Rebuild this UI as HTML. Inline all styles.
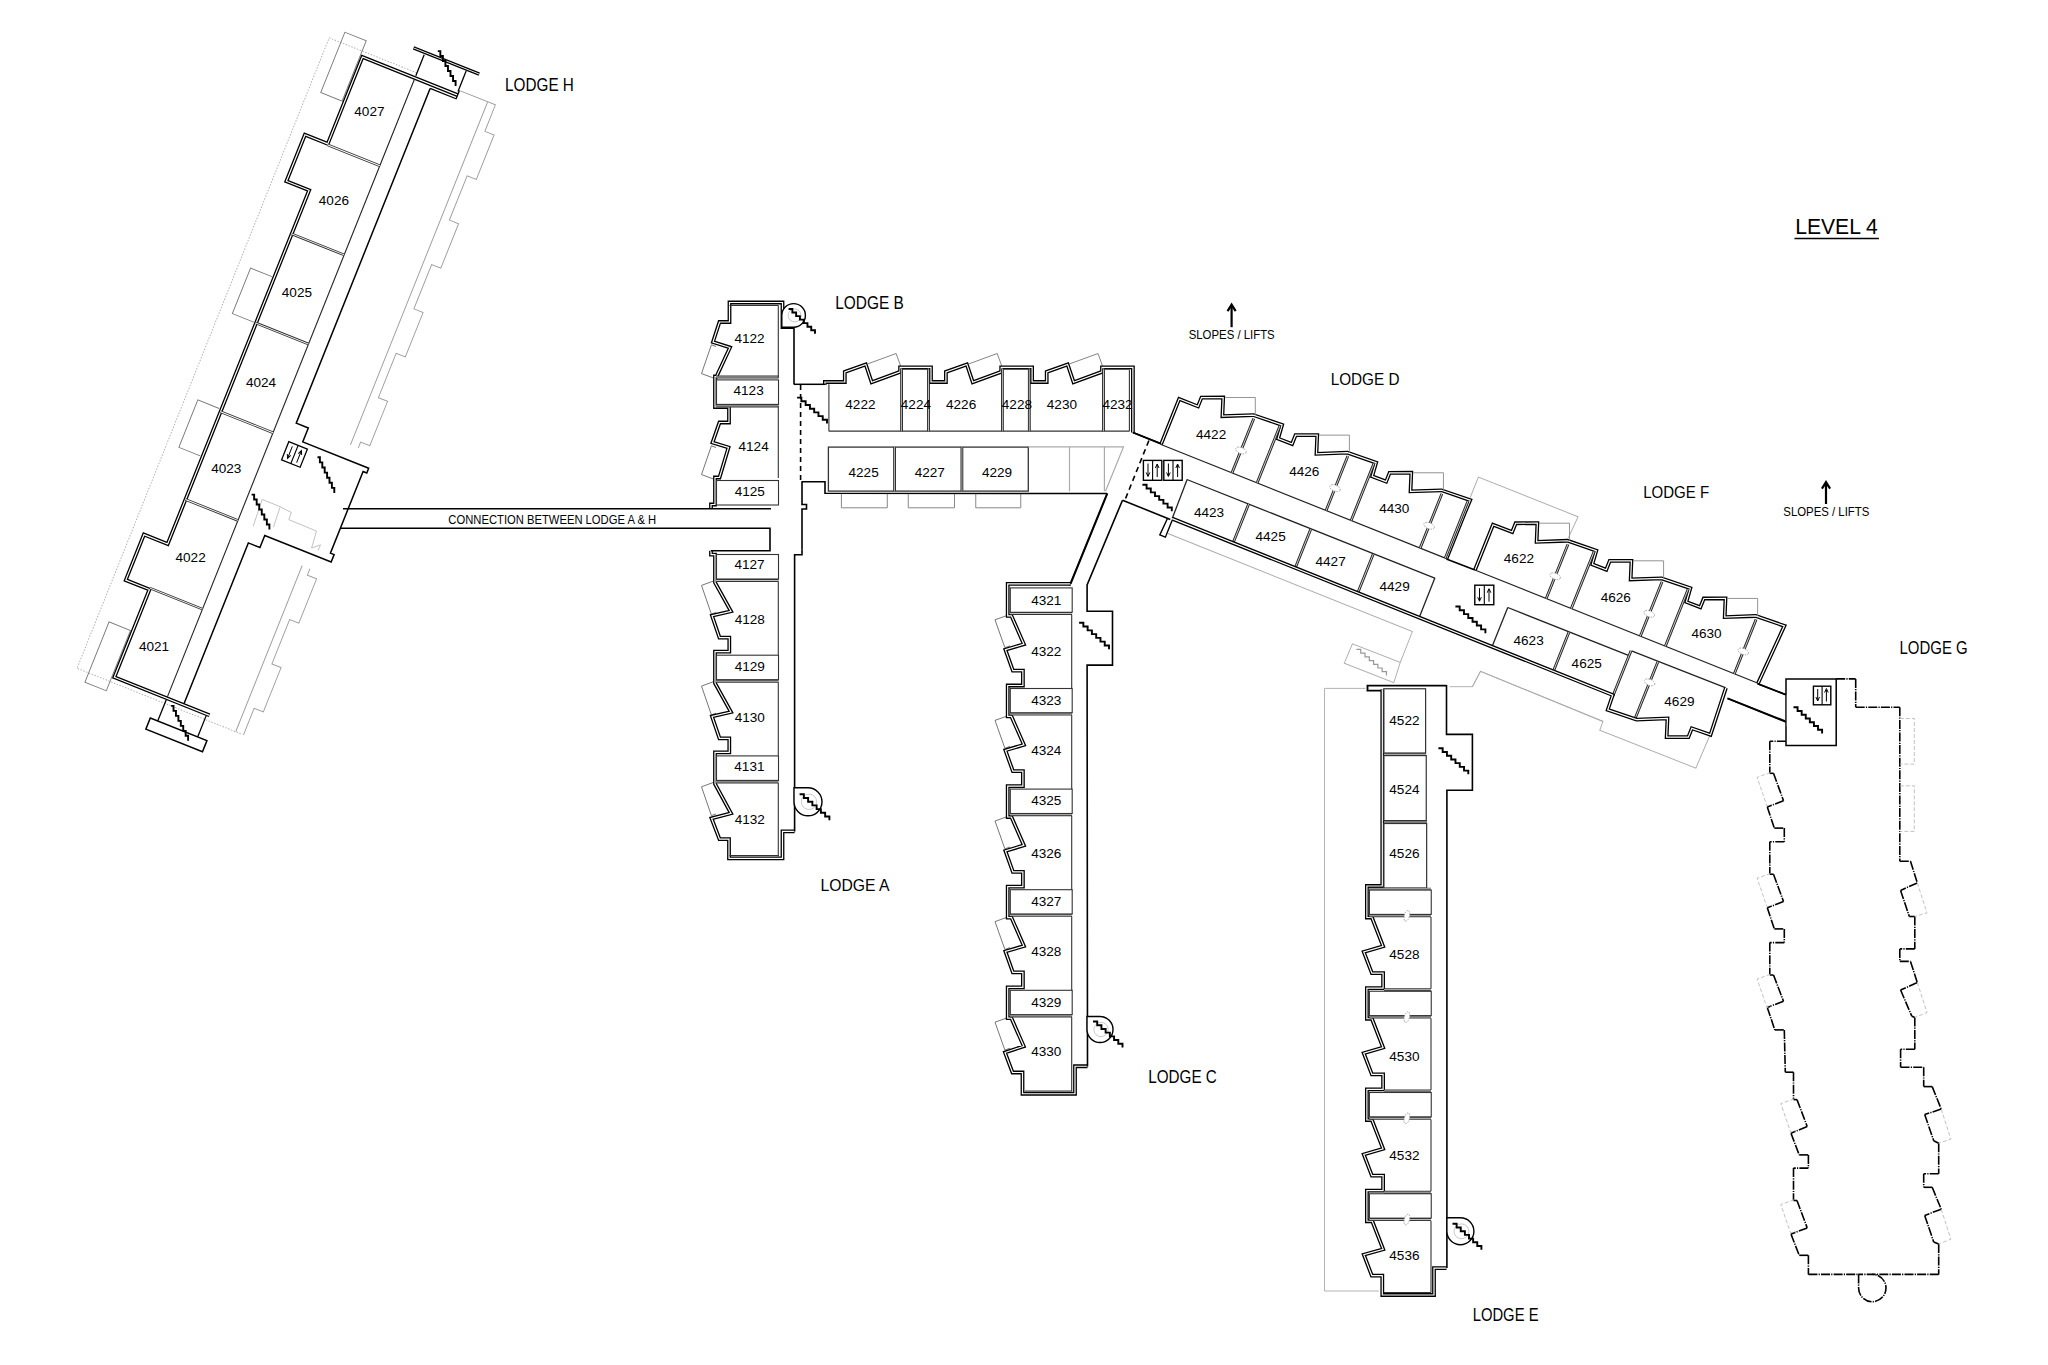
<!DOCTYPE html><html><head><meta charset="utf-8"><style>html,body{margin:0;padding:0;background:#fff;width:2048px;height:1365px;overflow:hidden}svg{display:block;font-family:"Liberation Sans",sans-serif}</style></head><body>
<svg width="2048" height="1365" viewBox="0 0 2048 1365">
<rect width="2048" height="1365" fill="#fff"/>
<g transform="translate(361.6,55.1) rotate(21.8)">
<polyline points="57.8,-4 -36.5,-4 -36.5,675 141.5,675" fill="none" stroke="#aaa" stroke-width="0.9" stroke-dasharray="1.5,1.5"/>
<polyline points="104.9,-3.5 142.7,-3.5 142.8,25 152.7,25 152.7,72.8 142.8,72.8 142.8,120.6 152.7,120.6 152.7,168.4 142.8,168.4 142.8,216.2 152.7,216.2 152.7,264 142.8,264 142.8,311.8 152.7,311.8 152.7,359.6 142.8,359.6 142.8,407.4 152.7,407.4 152.7,455.2 142.8,455.2 142.8,503 152.7,503 152.7,550.8 142.8,550.8 142.8,598.6 152.7,598.6 152.7,646.4 142.8,646.4 142.8,675" fill="none" stroke="#9a9a9a" stroke-width="0.9" />
<polyline points="134.4,-3 134.4,675" fill="none" stroke="#9a9a9a" stroke-width="0.9" />
<polygon points="-1,-15 -24,-15 -24,50 -1,50" fill="none" stroke="#777" stroke-width="0.9" />
<polyline points="-1,239 -24,239 -24,288 -1,288" fill="none" stroke="#777" stroke-width="0.9" />
<polyline points="-1,381 -24,381 -24,432 -1,432" fill="none" stroke="#777" stroke-width="0.9" />
<polygon points="-1,620 -24,620 -24,685 -1,685" fill="none" stroke="#777" stroke-width="0.9" />
<polygon points="89,366 160,381 160,482 88.5,482" fill="#fff"/>
<rect x="76" y="366" width="86" height="130" fill="#fff"/>
<polyline points="104,1.5 1.5,1.5 1.5,95 -23,95 -23,145 1.5,145 1.5,526 -24,526 -24,575 1.5,575 1.5,669.5 104,669.5" fill="none" stroke="#000" stroke-width="3.8" stroke-linejoin="miter"/>
<polyline points="104,1.5 1.5,1.5 1.5,95 -23,95 -23,145 1.5,145 1.5,526 -24,526 -24,575 1.5,575 1.5,669.5 104,669.5" fill="none" stroke="#fff" stroke-width="1.2" stroke-linejoin="miter"/>
<line x1="58" y1="3" x2="58" y2="668" stroke="#222" stroke-width="1.1" />
<polyline points="1.5,96 58,96" fill="none" stroke="#333" stroke-width="2.6" stroke-linejoin="miter"/>
<polyline points="1.5,96 58,96" fill="none" stroke="#fff" stroke-width="0.9" stroke-linejoin="miter"/>
<polyline points="1.5,192 58,192" fill="none" stroke="#333" stroke-width="2.6" stroke-linejoin="miter"/>
<polyline points="1.5,192 58,192" fill="none" stroke="#fff" stroke-width="0.9" stroke-linejoin="miter"/>
<polyline points="1.5,288 58,288" fill="none" stroke="#333" stroke-width="2.6" stroke-linejoin="miter"/>
<polyline points="1.5,288 58,288" fill="none" stroke="#fff" stroke-width="0.9" stroke-linejoin="miter"/>
<polyline points="1.5,383.5 58,383.5" fill="none" stroke="#333" stroke-width="2.6" stroke-linejoin="miter"/>
<polyline points="1.5,383.5 58,383.5" fill="none" stroke="#fff" stroke-width="0.9" stroke-linejoin="miter"/>
<polyline points="1.5,478 58,478" fill="none" stroke="#333" stroke-width="2.6" stroke-linejoin="miter"/>
<polyline points="1.5,478 58,478" fill="none" stroke="#fff" stroke-width="0.9" stroke-linejoin="miter"/>
<polyline points="1.5,573.5 58,573.5" fill="none" stroke="#333" stroke-width="2.6" stroke-linejoin="miter"/>
<polyline points="1.5,573.5 58,573.5" fill="none" stroke="#fff" stroke-width="0.9" stroke-linejoin="miter"/>
<polyline points="76,5.5 76,366 89,366 89,381 160,381 160,386 156,386 156,474 160,474 160,482 88.5,482 88.5,495 76,495 76,668" fill="none" stroke="#000" stroke-width="1.5" />
<line x1="76" y1="5.5" x2="104.5" y2="5.5" stroke="#000" stroke-width="1.3" />
<line x1="104" y1="-3.5" x2="104" y2="5.5" stroke="#000" stroke-width="1.3" />
<polyline points="45.5,-26 116.3,-26" fill="none" stroke="#000" stroke-width="3.4" stroke-linejoin="miter"/>
<polyline points="45.5,-26 116.3,-26" fill="none" stroke="#fff" stroke-width="1" stroke-linejoin="miter"/>
<line x1="58" y1="-23.5" x2="58" y2="-1" stroke="#000" stroke-width="1.3" />
<line x1="103" y1="-24" x2="103" y2="-2" stroke="#000" stroke-width="1.3" />
<line x1="58" y1="671" x2="58" y2="694" stroke="#000" stroke-width="1.3" />
<line x1="101" y1="671" x2="101" y2="694" stroke="#000" stroke-width="1.3" />
<polygon points="50,694 111,694 111,706 50,706" fill="none" stroke="#000" stroke-width="1.5" />
<g>
<rect x="76" y="386" width="20" height="19.5" fill="none" stroke="#000" stroke-width="1.3" />
<line x1="86" y1="386" x2="86" y2="405.5" stroke="#000" stroke-width="1.1" />
<line x1="81" y1="389" x2="81" y2="401.5" stroke="#000" stroke-width="1" />
<polyline points="79.2,398 81,402 82.8,398" fill="none" stroke="#000" stroke-width="1" />
<line x1="91" y1="390" x2="91" y2="402.5" stroke="#000" stroke-width="1" />
<polyline points="89.2,393.5 91,389.5 92.8,393.5" fill="none" stroke="#000" stroke-width="1" />
</g>
</g>
<polyline points="253.21,526.19 262.13,499.44 278.34,505.93 291.31,512.41 288.88,519.71 316.44,531.06 311.58,548.08 320.49,544.84 318.06,550.51" fill="none" stroke="#bbb" stroke-width="0.9" />
<line x1="279.96" y1="507.55" x2="273.48" y2="527" stroke="#bbb" stroke-width="0.9" />
<polyline points="437.8,51.1 440.34,51.1 440.34,56.07 442.89,56.07 442.89,61.04 445.43,61.04 445.43,66.01 447.97,66.01 447.97,70.99 450.51,70.99 450.51,75.96 453.06,75.96 453.06,80.93 455.6,80.93 455.6,85.9" fill="none" stroke="#000" stroke-width="1.9" />
<polyline points="317.5,457.3 319.9,457.3 319.9,462.4 322.3,462.4 322.3,467.5 324.7,467.5 324.7,472.6 327.1,472.6 327.1,477.7 329.5,477.7 329.5,482.8 331.9,482.8 331.9,487.9 334.3,487.9 334.3,493" fill="none" stroke="#000" stroke-width="1.9" />
<polyline points="251.6,494.6 254.14,494.6 254.14,499.57 256.69,499.57 256.69,504.54 259.23,504.54 259.23,509.51 261.77,509.51 261.77,514.49 264.31,514.49 264.31,519.46 266.86,519.46 266.86,524.43 269.4,524.43 269.4,529.4" fill="none" stroke="#000" stroke-width="1.9" />
<polyline points="171.1,705.9 173.53,705.9 173.53,710.89 175.96,710.89 175.96,715.87 178.39,715.87 178.39,720.86 180.81,720.86 180.81,725.84 183.24,725.84 183.24,730.83 185.67,730.83 185.67,735.81 188.1,735.81 188.1,740.8" fill="none" stroke="#000" stroke-width="1.9" />
<text x="369.4" y="115.75" font-size="13.57" text-anchor="middle" textLength="30.21" lengthAdjust="spacingAndGlyphs" fill="#000">4027</text>
<text x="333.9" y="204.75" font-size="13.57" text-anchor="middle" textLength="30.21" lengthAdjust="spacingAndGlyphs" fill="#000">4026</text>
<text x="296.9" y="296.95" font-size="13.57" text-anchor="middle" textLength="30.21" lengthAdjust="spacingAndGlyphs" fill="#000">4025</text>
<text x="261" y="386.5" font-size="13.57" text-anchor="middle" textLength="30.21" lengthAdjust="spacingAndGlyphs" fill="#000">4024</text>
<text x="226.25" y="473.25" font-size="13.57" text-anchor="middle" textLength="30.21" lengthAdjust="spacingAndGlyphs" fill="#000">4023</text>
<text x="190.6" y="562" font-size="13.57" text-anchor="middle" textLength="30.21" lengthAdjust="spacingAndGlyphs" fill="#000">4022</text>
<text x="154" y="651" font-size="13.57" text-anchor="middle" textLength="30.21" lengthAdjust="spacingAndGlyphs" fill="#000">4021</text>
<text x="539.5" y="90.8" font-size="18.14" text-anchor="middle" textLength="68.79" lengthAdjust="spacingAndGlyphs" fill="#000">LODGE H</text>
<polyline points="713.5,378 701.5,373.6 711.4,344.8 716,346.5" fill="none" stroke="#666" stroke-width="0.9" />
<polyline points="713.5,479 701.5,474.6 711.4,445.8 716,447.5" fill="none" stroke="#666" stroke-width="0.9" />
<polyline points="713.5,581 701.5,585.4 711.4,614.2 716,612.5" fill="none" stroke="#666" stroke-width="0.9" />
<polyline points="713.5,681.7 701.5,686.1 711.4,714.9 716,713.2" fill="none" stroke="#666" stroke-width="0.9" />
<polyline points="713.5,782.4 701.5,786.8 711.4,815.6 716,813.9" fill="none" stroke="#666" stroke-width="0.9" />
<polyline points="794,327 782.5,327 782.5,302.5 729.5,302.5 729.5,322 719.5,322 713,342 730,347.5 716.5,376.5 715,376.5 715,407 729,407 729,422.5 719.5,422.5 712.5,442.5 728.5,447.5 719.5,477.5 715,477.5 715,504.5 711,504.5 711,508.8" fill="none" stroke="#000" stroke-width="3.8" stroke-linejoin="miter"/>
<polyline points="794,327 782.5,327 782.5,302.5 729.5,302.5 729.5,322 719.5,322 713,342 730,347.5 716.5,376.5 715,376.5 715,407 729,407 729,422.5 719.5,422.5 712.5,442.5 728.5,447.5 719.5,477.5 715,477.5 715,504.5 711,504.5 711,508.8" fill="none" stroke="#fff" stroke-width="1.2" stroke-linejoin="miter"/>
<polyline points="711,550.7 711,554.7 715,554.7 715,582.5 731,611.3 712,615.7 719.5,637.6 729.3,637.6 729.3,651.6 715,651.6 715,683.2 731,712 712,716.4 719.5,738.3 729.3,738.3 729.3,752.3 715,752.3 715,783.9 731,813.3 711.5,818.3 719.5,839.2 729,839.2 729,858.3 782.5,858.3 782.5,831.4 794.6,831.4" fill="none" stroke="#000" stroke-width="3.8" stroke-linejoin="miter"/>
<polyline points="711,550.7 711,554.7 715,554.7 715,582.5 731,611.3 712,615.7 719.5,637.6 729.3,637.6 729.3,651.6 715,651.6 715,683.2 731,712 712,716.4 719.5,738.3 729.3,738.3 729.3,752.3 715,752.3 715,783.9 731,813.3 711.5,818.3 719.5,839.2 729,839.2 729,858.3 782.5,858.3 782.5,831.4 794.6,831.4" fill="none" stroke="#fff" stroke-width="1.2" stroke-linejoin="miter"/>
<line x1="343" y1="508.8" x2="771" y2="508.8" stroke="#000" stroke-width="1.6" />
<polyline points="340,528.3 770,528.3 770,550.7 711,550.7" fill="none" stroke="#000" stroke-width="1.6" />
<polyline points="794.6,831.4 794.6,554.7 802,554.7 802,549.7" fill="none" stroke="#000" stroke-width="1.6" />
<polyline points="802,549.7 802,509 806.5,509 806.5,504.5 802,504.5 802,481.5" fill="none" stroke="#000" stroke-width="1.6" />
<line x1="794" y1="327" x2="794" y2="384.5" stroke="#000" stroke-width="1.6" />
<line x1="800.6" y1="385" x2="800.6" y2="481" stroke="#000" stroke-width="1.6" stroke-dasharray="5,4"/>
<rect x="716.5" y="379.9" width="62" height="24.5" fill="none" stroke="#333" stroke-width="1.1" />
<polyline points="716,405.9 778.5,405.9" fill="none" stroke="#333" stroke-width="3" stroke-linejoin="miter"/>
<polyline points="716,405.9 778.5,405.9" fill="none" stroke="#fff" stroke-width="0.7" stroke-linejoin="miter"/>
<rect x="716.5" y="480.5" width="62" height="24.5" fill="none" stroke="#333" stroke-width="1.1" />
<rect x="716.5" y="554.5" width="62" height="24.5" fill="none" stroke="#333" stroke-width="1.1" />
<polyline points="716,580.5 778.5,580.5" fill="none" stroke="#333" stroke-width="3" stroke-linejoin="miter"/>
<polyline points="716,580.5 778.5,580.5" fill="none" stroke="#fff" stroke-width="0.7" stroke-linejoin="miter"/>
<rect x="716.5" y="655.2" width="62" height="24.5" fill="none" stroke="#333" stroke-width="1.1" />
<polyline points="716,681.2 778.5,681.2" fill="none" stroke="#333" stroke-width="3" stroke-linejoin="miter"/>
<polyline points="716,681.2 778.5,681.2" fill="none" stroke="#fff" stroke-width="0.7" stroke-linejoin="miter"/>
<rect x="716.5" y="755.9" width="62" height="24.5" fill="none" stroke="#333" stroke-width="1.1" />
<polyline points="716,781.9 778.5,781.9" fill="none" stroke="#333" stroke-width="3" stroke-linejoin="miter"/>
<polyline points="716,781.9 778.5,781.9" fill="none" stroke="#fff" stroke-width="0.7" stroke-linejoin="miter"/>
<polyline points="716,377 778.5,377" fill="none" stroke="#333" stroke-width="3" stroke-linejoin="miter"/>
<polyline points="716,377 778.5,377" fill="none" stroke="#fff" stroke-width="0.7" stroke-linejoin="miter"/>
<line x1="778.3" y1="305.5" x2="778.3" y2="378" stroke="#333" stroke-width="1.1" />
<line x1="778.3" y1="406" x2="778.3" y2="478" stroke="#333" stroke-width="1.1" />
<line x1="778.3" y1="581.5" x2="778.3" y2="655" stroke="#333" stroke-width="1.1" />
<line x1="778.3" y1="682.2" x2="778.3" y2="755.7" stroke="#333" stroke-width="1.1" />
<line x1="778.3" y1="782.9" x2="778.3" y2="856.5" stroke="#333" stroke-width="1.1" />
<line x1="729.5" y1="305.5" x2="778.5" y2="305.5" stroke="#333" stroke-width="1.1" />
<line x1="729.5" y1="855.5" x2="778.5" y2="855.5" stroke="#333" stroke-width="1.1" />
<path d="M793.6,327.2 L781.8,327.2 L781.8,315.4 A11.8,11.8 0 1 1 793.6,327.2 Z" fill="#fff" stroke="#000" stroke-width="1.4"/>
<circle cx="794.6" cy="315.4" r="6.49" fill="none" stroke="#bbb" stroke-width="0.8"/>
<polyline points="788.6,309 792.37,309 792.37,312.54 796.14,312.54 796.14,316.09 799.91,316.09 799.91,319.63 803.69,319.63 803.69,323.17 807.46,323.17 807.46,326.71 811.23,326.71 811.23,330.26 815,330.26 815,333.8" fill="none" stroke="#000" stroke-width="1.9" />
<path d="M794,801.8 L794,787.8 L808,787.8 A14,14 0 1 1 794,801.8 Z" fill="#fff" stroke="#000" stroke-width="1.4"/>
<circle cx="809" cy="801.8" r="7.7" fill="none" stroke="#bbb" stroke-width="0.8"/>
<polyline points="799.6,794.3 803.86,794.3 803.86,798 808.11,798 808.11,801.7 812.37,801.7 812.37,805.4 816.63,805.4 816.63,809.1 820.89,809.1 820.89,812.8 825.14,812.8 825.14,816.5 829.4,816.5 829.4,820.2" fill="none" stroke="#000" stroke-width="1.9" />
<polyline points="797.1,397.6 801.37,397.6 801.37,401.3 805.64,401.3 805.64,405 809.91,405 809.91,408.7 814.19,408.7 814.19,412.4 818.46,412.4 818.46,416.1 822.73,416.1 822.73,419.8 827,419.8 827,423.5" fill="none" stroke="#000" stroke-width="1.9" />
<text x="749.5" y="343.15" font-size="13.57" text-anchor="middle" textLength="30.21" lengthAdjust="spacingAndGlyphs" fill="#000">4122</text>
<text x="748.6" y="394.75" font-size="13.57" text-anchor="middle" textLength="30.21" lengthAdjust="spacingAndGlyphs" fill="#000">4123</text>
<text x="753.6" y="451" font-size="13.57" text-anchor="middle" textLength="30.21" lengthAdjust="spacingAndGlyphs" fill="#000">4124</text>
<text x="749.75" y="496" font-size="13.57" text-anchor="middle" textLength="30.21" lengthAdjust="spacingAndGlyphs" fill="#000">4125</text>
<text x="749.5" y="569.45" font-size="13.57" text-anchor="middle" textLength="30.21" lengthAdjust="spacingAndGlyphs" fill="#000">4127</text>
<text x="749.75" y="624.25" font-size="13.57" text-anchor="middle" textLength="30.21" lengthAdjust="spacingAndGlyphs" fill="#000">4128</text>
<text x="749.75" y="670.65" font-size="13.57" text-anchor="middle" textLength="30.21" lengthAdjust="spacingAndGlyphs" fill="#000">4129</text>
<text x="749.75" y="722.25" font-size="13.57" text-anchor="middle" textLength="30.21" lengthAdjust="spacingAndGlyphs" fill="#000">4130</text>
<text x="749.4" y="771.35" font-size="13.57" text-anchor="middle" textLength="30.21" lengthAdjust="spacingAndGlyphs" fill="#000">4131</text>
<text x="749.75" y="823.5" font-size="13.57" text-anchor="middle" textLength="30.21" lengthAdjust="spacingAndGlyphs" fill="#000">4132</text>
<text x="552.25" y="523.6" font-size="12.86" text-anchor="middle" textLength="207.77" lengthAdjust="spacingAndGlyphs" fill="#000">CONNECTION BETWEEN LODGE A &amp; H</text>
<polyline points="867.7,363.9 896.1,353.5 900.6,365.9" fill="none" stroke="#777" stroke-width="0.9" />
<polyline points="968.8,363.9 997.2,353.5 1001.7,365.9" fill="none" stroke="#777" stroke-width="0.9" />
<polyline points="1069.6,363.9 1098,353.5 1102.5,365.9" fill="none" stroke="#777" stroke-width="0.9" />
<polyline points="841.4,493.5 841.4,507.8 887.3,507.8 887.3,493.5" fill="none" stroke="#888" stroke-width="1" />
<polyline points="908.25,493.5 908.25,507.8 954.5,507.8 954.5,493.5" fill="none" stroke="#888" stroke-width="1" />
<polyline points="975.75,493.5 975.75,507.8 1020.75,507.8 1020.75,493.5" fill="none" stroke="#888" stroke-width="1" />
<polyline points="824.9,384.8 824.9,382 844.8,382 844.8,371.9 865.7,364.4 871.7,382.2 900.1,371.9 900.1,367.4 931,367.4 931,382 945.9,382 945.9,371.9 966.8,364.4 972.8,382.2 1001.2,371.9 1001.2,367.4 1032.1,367.4 1032.1,382 1046.7,382 1046.7,371.9 1067.6,364.4 1073.6,382.2 1102,371.9 1102,367.4 1132.9,367.4 1132.9,367.4 1132.9,432.6" fill="none" stroke="#000" stroke-width="3.8" stroke-linejoin="miter"/>
<polyline points="824.9,384.8 824.9,382 844.8,382 844.8,371.9 865.7,364.4 871.7,382.2 900.1,371.9 900.1,367.4 931,367.4 931,382 945.9,382 945.9,371.9 966.8,364.4 972.8,382.2 1001.2,371.9 1001.2,367.4 1032.1,367.4 1032.1,382 1046.7,382 1046.7,371.9 1067.6,364.4 1073.6,382.2 1102,371.9 1102,367.4 1132.9,367.4 1132.9,367.4 1132.9,432.6" fill="none" stroke="#fff" stroke-width="1.2" stroke-linejoin="miter"/>
<line x1="794" y1="384.3" x2="825.5" y2="384.3" stroke="#000" stroke-width="1.5" />
<line x1="828.9" y1="384.3" x2="828.9" y2="431.2" stroke="#333" stroke-width="1.1" />
<line x1="828.9" y1="431.2" x2="1129.4" y2="431.2" stroke="#333" stroke-width="1.2" />
<line x1="1129.4" y1="369.5" x2="1129.4" y2="431.2" stroke="#333" stroke-width="1.1" />
<polyline points="901.6,368.5 901.6,431.2" fill="none" stroke="#222" stroke-width="2.8" stroke-linejoin="miter"/>
<polyline points="901.6,368.5 901.6,431.2" fill="none" stroke="#fff" stroke-width="0.7" stroke-linejoin="miter"/>
<polyline points="928.5,368.5 928.5,431.2" fill="none" stroke="#222" stroke-width="2.8" stroke-linejoin="miter"/>
<polyline points="928.5,368.5 928.5,431.2" fill="none" stroke="#fff" stroke-width="0.7" stroke-linejoin="miter"/>
<polyline points="1002.4,368.5 1002.4,431.2" fill="none" stroke="#222" stroke-width="2.8" stroke-linejoin="miter"/>
<polyline points="1002.4,368.5 1002.4,431.2" fill="none" stroke="#fff" stroke-width="0.7" stroke-linejoin="miter"/>
<polyline points="1029.3,368.5 1029.3,431.2" fill="none" stroke="#222" stroke-width="2.8" stroke-linejoin="miter"/>
<polyline points="1029.3,368.5 1029.3,431.2" fill="none" stroke="#fff" stroke-width="0.7" stroke-linejoin="miter"/>
<polyline points="1103.5,368.5 1103.5,431.2" fill="none" stroke="#222" stroke-width="2.8" stroke-linejoin="miter"/>
<polyline points="1103.5,368.5 1103.5,431.2" fill="none" stroke="#fff" stroke-width="0.7" stroke-linejoin="miter"/>
<line x1="902.6" y1="369.3" x2="928.6" y2="369.3" stroke="#444" stroke-width="1" />
<line x1="1003.7" y1="369.3" x2="1029.7" y2="369.3" stroke="#444" stroke-width="1" />
<line x1="1103.5" y1="369.3" x2="1129.4" y2="369.3" stroke="#444" stroke-width="1" />
<rect x="828.4" y="447.1" width="199.9" height="44" fill="none" stroke="#333" stroke-width="1.3" />
<polyline points="894.6,447.1 894.6,491.1" fill="none" stroke="#222" stroke-width="2.8" stroke-linejoin="miter"/>
<polyline points="894.6,447.1 894.6,491.1" fill="none" stroke="#fff" stroke-width="0.7" stroke-linejoin="miter"/>
<polyline points="961.9,447.1 961.9,491.1" fill="none" stroke="#222" stroke-width="2.8" stroke-linejoin="miter"/>
<polyline points="961.9,447.1 961.9,491.1" fill="none" stroke="#fff" stroke-width="0.7" stroke-linejoin="miter"/>
<line x1="1069.5" y1="447" x2="1069.5" y2="491.3" stroke="#aaa" stroke-width="1.2" />
<line x1="1104.4" y1="447" x2="1104.4" y2="491.3" stroke="#aaa" stroke-width="1.2" />
<polyline points="1028.3,446.9 1123.5,446.9 1105.5,491.3" fill="none" stroke="#aaa" stroke-width="1.2" />
<polyline points="801.6,481.8 825,481.8 825,493.3 1107,493.5" fill="none" stroke="#000" stroke-width="1.6" />
<line x1="1107" y1="493.5" x2="1069.5" y2="585.5" stroke="#000" stroke-width="1.6" />
<line x1="1132.9" y1="432.6" x2="1160.8" y2="443.6" stroke="#000" stroke-width="1.6" />
<line x1="1148.9" y1="440.5" x2="1125.5" y2="498.7" stroke="#000" stroke-width="1.6" stroke-dasharray="5.5,4"/>
<rect x="1143.4" y="460.4" width="18.4" height="19.9" fill="none" stroke="#000" stroke-width="1.4" />
<line x1="1152.6" y1="460.4" x2="1152.6" y2="480.3" stroke="#000" stroke-width="1.1" />
<line x1="1148" y1="463.5" x2="1148" y2="476" stroke="#000" stroke-width="1" />
<polyline points="1146.2,472.5 1148,476.5 1149.8,472.5" fill="none" stroke="#000" stroke-width="1" />
<line x1="1157.2" y1="464.5" x2="1157.2" y2="477" stroke="#000" stroke-width="1" />
<polyline points="1155.4,468 1157.2,464 1159,468" fill="none" stroke="#000" stroke-width="1" />
<rect x="1163.8" y="460.4" width="18.4" height="19.9" fill="none" stroke="#000" stroke-width="1.4" />
<line x1="1173" y1="460.4" x2="1173" y2="480.3" stroke="#000" stroke-width="1.1" />
<line x1="1168.4" y1="463.5" x2="1168.4" y2="476" stroke="#000" stroke-width="1" />
<polyline points="1166.6,472.5 1168.4,476.5 1170.2,472.5" fill="none" stroke="#000" stroke-width="1" />
<line x1="1177.6" y1="464.5" x2="1177.6" y2="477" stroke="#000" stroke-width="1" />
<polyline points="1175.8,468 1177.6,464 1179.4,468" fill="none" stroke="#000" stroke-width="1" />
<polyline points="1142.4,484.8 1146.6,484.8 1146.6,488.57 1150.8,488.57 1150.8,492.34 1155,492.34 1155,496.11 1159.2,496.11 1159.2,499.89 1163.4,499.89 1163.4,503.66 1167.6,503.66 1167.6,507.43 1171.8,507.43 1171.8,511.2" fill="none" stroke="#000" stroke-width="1.9" />
<text x="860.4" y="409.25" font-size="13.57" text-anchor="middle" textLength="30.21" lengthAdjust="spacingAndGlyphs" fill="#000">4222</text>
<text x="915.9" y="409.25" font-size="13.57" text-anchor="middle" textLength="30.21" lengthAdjust="spacingAndGlyphs" fill="#000">4224</text>
<text x="961.1" y="409.25" font-size="13.57" text-anchor="middle" textLength="30.21" lengthAdjust="spacingAndGlyphs" fill="#000">4226</text>
<text x="1016.9" y="409.05" font-size="13.57" text-anchor="middle" textLength="30.21" lengthAdjust="spacingAndGlyphs" fill="#000">4228</text>
<text x="1061.9" y="409.05" font-size="13.57" text-anchor="middle" textLength="30.21" lengthAdjust="spacingAndGlyphs" fill="#000">4230</text>
<text x="1117.5" y="409.05" font-size="13.57" text-anchor="middle" textLength="30.21" lengthAdjust="spacingAndGlyphs" fill="#000">4232</text>
<text x="863.6" y="477.25" font-size="13.57" text-anchor="middle" textLength="30.21" lengthAdjust="spacingAndGlyphs" fill="#000">4225</text>
<text x="929.75" y="477.25" font-size="13.57" text-anchor="middle" textLength="30.21" lengthAdjust="spacingAndGlyphs" fill="#000">4227</text>
<text x="997" y="477.25" font-size="13.57" text-anchor="middle" textLength="30.21" lengthAdjust="spacingAndGlyphs" fill="#000">4229</text>
<text x="869.5" y="308.5" font-size="17.86" text-anchor="middle" textLength="68.57" lengthAdjust="spacingAndGlyphs" fill="#000">LODGE B</text>
<polyline points="1007.5,615.3 995,619.8 1004.9,647.7 1010,645.8" fill="none" stroke="#666" stroke-width="0.9" />
<polyline points="1007.5,715.9 995,720.4 1004.9,748.3 1010,746.4" fill="none" stroke="#666" stroke-width="0.9" />
<polyline points="1007.5,816.5 995,821 1004.9,848.9 1010,847" fill="none" stroke="#666" stroke-width="0.9" />
<polyline points="1007.5,917.1 995,921.6 1004.9,949.5 1010,947.6" fill="none" stroke="#666" stroke-width="0.9" />
<polyline points="1007.5,1017.7 995,1022.2 1004.9,1050.1 1010,1048.2" fill="none" stroke="#666" stroke-width="0.9" />
<polyline points="1070.7,583.9 1007.7,583.9 1007.7,615.8 1011.4,615.8 1023.9,644.2 1005.4,649.7 1012.9,670.6 1022.9,670.6 1022.9,685.5 1007.7,685.5 1007.7,716.4 1011.4,716.4 1023.9,744.8 1005.4,750.3 1012.9,771.2 1022.9,771.2 1022.9,786.1 1007.7,786.1 1007.7,817 1011.4,817 1023.9,845.4 1005.4,850.9 1012.9,871.8 1022.9,871.8 1022.9,886.7 1007.7,886.7 1007.7,917.6 1011.4,917.6 1023.9,946 1005.4,951.5 1012.9,972.4 1022.9,972.4 1022.9,987.3 1007.7,987.3 1007.7,1018.2 1011.4,1018.2 1023.75,1046.25 1005,1052.5 1012.5,1072.5 1022.5,1072.5 1022.5,1093.75 1075,1093.75 1075,1066.25 1087.5,1066.25" fill="none" stroke="#000" stroke-width="3.8" stroke-linejoin="miter"/>
<polyline points="1070.7,583.9 1007.7,583.9 1007.7,615.8 1011.4,615.8 1023.9,644.2 1005.4,649.7 1012.9,670.6 1022.9,670.6 1022.9,685.5 1007.7,685.5 1007.7,716.4 1011.4,716.4 1023.9,744.8 1005.4,750.3 1012.9,771.2 1022.9,771.2 1022.9,786.1 1007.7,786.1 1007.7,817 1011.4,817 1023.9,845.4 1005.4,850.9 1012.9,871.8 1022.9,871.8 1022.9,886.7 1007.7,886.7 1007.7,917.6 1011.4,917.6 1023.9,946 1005.4,951.5 1012.9,972.4 1022.9,972.4 1022.9,987.3 1007.7,987.3 1007.7,1018.2 1011.4,1018.2 1023.75,1046.25 1005,1052.5 1012.5,1072.5 1022.5,1072.5 1022.5,1093.75 1075,1093.75 1075,1066.25 1087.5,1066.25" fill="none" stroke="#fff" stroke-width="1.2" stroke-linejoin="miter"/>
<line x1="1070.7" y1="583.9" x2="1107.5" y2="493.5" stroke="#000" stroke-width="1.6" />
<polyline points="1122.5,500.2 1087.1,584.9 1087.1,611.3 1112.5,611.3 1112.5,665.1 1087.1,665.1 1087.5,1066.5" fill="none" stroke="#000" stroke-width="1.6" />
<rect x="1010.3" y="587.9" width="61.9" height="24.4" fill="none" stroke="#333" stroke-width="1.1" />
<polyline points="1010,613.5 1072,613.5" fill="none" stroke="#333" stroke-width="3" stroke-linejoin="miter"/>
<polyline points="1010,613.5 1072,613.5" fill="none" stroke="#fff" stroke-width="0.7" stroke-linejoin="miter"/>
<line x1="1071.7" y1="614.4" x2="1071.7" y2="688.5" stroke="#333" stroke-width="1.1" />
<rect x="1010.3" y="688.5" width="61.9" height="24.4" fill="none" stroke="#333" stroke-width="1.1" />
<polyline points="1010,714.1 1072,714.1" fill="none" stroke="#333" stroke-width="3" stroke-linejoin="miter"/>
<polyline points="1010,714.1 1072,714.1" fill="none" stroke="#fff" stroke-width="0.7" stroke-linejoin="miter"/>
<line x1="1071.7" y1="715" x2="1071.7" y2="789.1" stroke="#333" stroke-width="1.1" />
<rect x="1010.3" y="789.1" width="61.9" height="24.4" fill="none" stroke="#333" stroke-width="1.1" />
<polyline points="1010,814.7 1072,814.7" fill="none" stroke="#333" stroke-width="3" stroke-linejoin="miter"/>
<polyline points="1010,814.7 1072,814.7" fill="none" stroke="#fff" stroke-width="0.7" stroke-linejoin="miter"/>
<line x1="1071.7" y1="815.6" x2="1071.7" y2="889.7" stroke="#333" stroke-width="1.1" />
<rect x="1010.3" y="889.7" width="61.9" height="24.4" fill="none" stroke="#333" stroke-width="1.1" />
<polyline points="1010,915.3 1072,915.3" fill="none" stroke="#333" stroke-width="3" stroke-linejoin="miter"/>
<polyline points="1010,915.3 1072,915.3" fill="none" stroke="#fff" stroke-width="0.7" stroke-linejoin="miter"/>
<line x1="1071.7" y1="916.2" x2="1071.7" y2="990.3" stroke="#333" stroke-width="1.1" />
<rect x="1010.3" y="990.3" width="61.9" height="24.4" fill="none" stroke="#333" stroke-width="1.1" />
<polyline points="1010,1015.9 1072,1015.9" fill="none" stroke="#333" stroke-width="3" stroke-linejoin="miter"/>
<polyline points="1010,1015.9 1072,1015.9" fill="none" stroke="#fff" stroke-width="0.7" stroke-linejoin="miter"/>
<line x1="1071.7" y1="1016.8" x2="1071.7" y2="1091" stroke="#333" stroke-width="1.1" />
<line x1="1025" y1="1091" x2="1072" y2="1091" stroke="#333" stroke-width="1.1" />
<polyline points="1079.1,622.8 1083.37,622.8 1083.37,626.57 1087.64,626.57 1087.64,630.34 1091.91,630.34 1091.91,634.11 1096.19,634.11 1096.19,637.89 1100.46,637.89 1100.46,641.66 1104.73,641.66 1104.73,645.43 1109,645.43 1109,649.2" fill="none" stroke="#000" stroke-width="1.9" />
<path d="M1087,1029.5 L1087,1016.5 L1100,1016.5 A13,13 0 1 1 1087,1029.5 Z" fill="#fff" stroke="#000" stroke-width="1.4"/>
<circle cx="1101" cy="1029.5" r="7.15" fill="none" stroke="#bbb" stroke-width="0.8"/>
<polyline points="1093,1021.5 1097.21,1021.5 1097.21,1025.21 1101.43,1025.21 1101.43,1028.93 1105.64,1028.93 1105.64,1032.64 1109.86,1032.64 1109.86,1036.36 1114.07,1036.36 1114.07,1040.07 1118.29,1040.07 1118.29,1043.79 1122.5,1043.79 1122.5,1047.5" fill="none" stroke="#000" stroke-width="1.9" />
<text x="1046.25" y="604.5" font-size="13.57" text-anchor="middle" textLength="30.21" lengthAdjust="spacingAndGlyphs" fill="#000">4321</text>
<text x="1046.25" y="656.25" font-size="13.57" text-anchor="middle" textLength="30.21" lengthAdjust="spacingAndGlyphs" fill="#000">4322</text>
<text x="1046.25" y="704.75" font-size="13.57" text-anchor="middle" textLength="30.21" lengthAdjust="spacingAndGlyphs" fill="#000">4323</text>
<text x="1046.25" y="754.75" font-size="13.57" text-anchor="middle" textLength="30.21" lengthAdjust="spacingAndGlyphs" fill="#000">4324</text>
<text x="1046.25" y="805.25" font-size="13.57" text-anchor="middle" textLength="30.21" lengthAdjust="spacingAndGlyphs" fill="#000">4325</text>
<text x="1046.25" y="857.75" font-size="13.57" text-anchor="middle" textLength="30.21" lengthAdjust="spacingAndGlyphs" fill="#000">4326</text>
<text x="1046.25" y="906" font-size="13.57" text-anchor="middle" textLength="30.21" lengthAdjust="spacingAndGlyphs" fill="#000">4327</text>
<text x="1046.25" y="956" font-size="13.57" text-anchor="middle" textLength="30.21" lengthAdjust="spacingAndGlyphs" fill="#000">4328</text>
<text x="1046.25" y="1006.75" font-size="13.57" text-anchor="middle" textLength="30.21" lengthAdjust="spacingAndGlyphs" fill="#000">4329</text>
<text x="1046.25" y="1056" font-size="13.57" text-anchor="middle" textLength="30.21" lengthAdjust="spacingAndGlyphs" fill="#000">4330</text>
<text x="1182.5" y="1082.5" font-size="17.86" text-anchor="middle" textLength="68.57" lengthAdjust="spacingAndGlyphs" fill="#000">LODGE C</text>
<g transform="translate(1132.9,432.6) rotate(21.8)">
<polyline points="70,80.7 333.4,81 333.6,114.1 282.2,114.5 281.9,135.6 335.1,135.3 333.6,114.1" fill="none" stroke="#aaa" stroke-width="0.9" />
<polyline points="409.6,109.9 411.4,92.6 543.7,93.5 544,103 647.3,102.5 648.1,67.5" fill="none" stroke="#aaa" stroke-width="0.9" />
<polyline points="337.3,-65 337.3,-87 444.6,-87.2 443.4,-64" fill="none" stroke="#aaa" stroke-width="0.9" />
<polyline points="30.5,0.5 30.5,-48.4 50.7,-48.5 50.7,-58 70.8,-66.1 77,-48.5 105.3,-61 135.7,-62.5 137.1,-48.3 152,-48.5 152,-58 172.1,-66.1 178.3,-48.5 206.6,-61 237,-62.5 238.4,-48.3 253.3,-48.5 253.3,-58 273.4,-66.1 279.6,-48.5 307.9,-61 338.3,-62.5 338,-48.3 338,0.5" fill="none" stroke="#000" stroke-width="3.8" stroke-linejoin="miter"/>
<polyline points="30.5,0.5 30.5,-48.4 50.7,-48.5 50.7,-58 70.8,-66.1 77,-48.5 105.3,-61 135.7,-62.5 137.1,-48.3 152,-48.5 152,-58 172.1,-66.1 178.3,-48.5 206.6,-61 237,-62.5 238.4,-48.3 253.3,-48.5 253.3,-58 273.4,-66.1 279.6,-48.5 307.9,-61 338.3,-62.5 338,-48.3 338,0.5" fill="none" stroke="#fff" stroke-width="1.2" stroke-linejoin="miter"/>
<polyline points="368.6,0.5 368.6,-48.2 389.1,-48.5 389.1,-58 409.2,-66.1 415.4,-48.5 443.7,-61 474.1,-62.5 475.5,-48.3 490.4,-48.5 490.4,-58 510.5,-66.1 516.7,-48.5 545,-61 575.4,-62.5 576.8,-48.3 591.7,-48.5 591.7,-58 611.8,-66.1 618,-48.5 646.3,-61 676.7,-62.5 673.5,1" fill="none" stroke="#000" stroke-width="3.8" stroke-linejoin="miter"/>
<polyline points="368.6,0.5 368.6,-48.2 389.1,-48.5 389.1,-58 409.2,-66.1 415.4,-48.5 443.7,-61 474.1,-62.5 475.5,-48.3 490.4,-48.5 490.4,-58 510.5,-66.1 516.7,-48.5 545,-61 575.4,-62.5 576.8,-48.3 591.7,-48.5 591.7,-58 611.8,-66.1 618,-48.5 646.3,-61 676.7,-62.5 673.5,1" fill="none" stroke="#fff" stroke-width="1.2" stroke-linejoin="miter"/>
<line x1="0" y1="0" x2="30.5" y2="0" stroke="#000" stroke-width="1.6" />
<line x1="338" y1="1" x2="368.6" y2="0.5" stroke="#000" stroke-width="1.6" />
<line x1="673.5" y1="1" x2="703" y2="0.8" stroke="#000" stroke-width="1.6" />
<line x1="30.5" y1="0.6" x2="338" y2="0.6" stroke="#222" stroke-width="1.2" />
<line x1="368.6" y1="0.6" x2="673.5" y2="0.6" stroke="#222" stroke-width="1.2" />
<polyline points="107,-58 107,0.6" fill="none" stroke="#222" stroke-width="2.8" stroke-linejoin="miter"/>
<polyline points="107,-58 107,0.6" fill="none" stroke="#fff" stroke-width="0.7" stroke-linejoin="miter"/>
<polyline points="134,-61 134,0.6" fill="none" stroke="#222" stroke-width="2.8" stroke-linejoin="miter"/>
<polyline points="134,-61 134,0.6" fill="none" stroke="#fff" stroke-width="0.7" stroke-linejoin="miter"/>
<polyline points="208.3,-58 208.3,0.6" fill="none" stroke="#222" stroke-width="2.8" stroke-linejoin="miter"/>
<polyline points="208.3,-58 208.3,0.6" fill="none" stroke="#fff" stroke-width="0.7" stroke-linejoin="miter"/>
<polyline points="235.3,-61 235.3,0.6" fill="none" stroke="#222" stroke-width="2.8" stroke-linejoin="miter"/>
<polyline points="235.3,-61 235.3,0.6" fill="none" stroke="#fff" stroke-width="0.7" stroke-linejoin="miter"/>
<polyline points="309.6,-58 309.6,0.6" fill="none" stroke="#222" stroke-width="2.8" stroke-linejoin="miter"/>
<polyline points="309.6,-58 309.6,0.6" fill="none" stroke="#fff" stroke-width="0.7" stroke-linejoin="miter"/>
<polyline points="336.6,-61 336.6,0.6" fill="none" stroke="#222" stroke-width="2.8" stroke-linejoin="miter"/>
<polyline points="336.6,-61 336.6,0.6" fill="none" stroke="#fff" stroke-width="0.7" stroke-linejoin="miter"/>
<polyline points="445.4,-58 445.4,0.6" fill="none" stroke="#222" stroke-width="2.8" stroke-linejoin="miter"/>
<polyline points="445.4,-58 445.4,0.6" fill="none" stroke="#fff" stroke-width="0.7" stroke-linejoin="miter"/>
<polyline points="472.4,-61 472.4,0.6" fill="none" stroke="#222" stroke-width="2.8" stroke-linejoin="miter"/>
<polyline points="472.4,-61 472.4,0.6" fill="none" stroke="#fff" stroke-width="0.7" stroke-linejoin="miter"/>
<polyline points="546.7,-58 546.7,0.6" fill="none" stroke="#222" stroke-width="2.8" stroke-linejoin="miter"/>
<polyline points="546.7,-58 546.7,0.6" fill="none" stroke="#fff" stroke-width="0.7" stroke-linejoin="miter"/>
<polyline points="573.7,-61 573.7,0.6" fill="none" stroke="#222" stroke-width="2.8" stroke-linejoin="miter"/>
<polyline points="573.7,-61 573.7,0.6" fill="none" stroke="#fff" stroke-width="0.7" stroke-linejoin="miter"/>
<polyline points="648,-58 648,0.6" fill="none" stroke="#222" stroke-width="2.8" stroke-linejoin="miter"/>
<polyline points="648,-58 648,0.6" fill="none" stroke="#fff" stroke-width="0.7" stroke-linejoin="miter"/>
<line x1="67.5" y1="23.5" x2="334.3" y2="23" stroke="#222" stroke-width="1.3" />
<line x1="67.8" y1="23.5" x2="68.4" y2="65" stroke="#222" stroke-width="1.3" />
<line x1="334.3" y1="22.5" x2="334.5" y2="64.5" stroke="#222" stroke-width="1.3" />
<polyline points="134,23.5 134,64" fill="none" stroke="#222" stroke-width="2.8" stroke-linejoin="miter"/>
<polyline points="134,23.5 134,64" fill="none" stroke="#fff" stroke-width="0.7" stroke-linejoin="miter"/>
<polyline points="201,23.5 201,64" fill="none" stroke="#222" stroke-width="2.8" stroke-linejoin="miter"/>
<polyline points="201,23.5 201,64" fill="none" stroke="#fff" stroke-width="0.7" stroke-linejoin="miter"/>
<polyline points="268.3,23.5 268.3,64" fill="none" stroke="#222" stroke-width="2.8" stroke-linejoin="miter"/>
<polyline points="268.3,23.5 268.3,64" fill="none" stroke="#fff" stroke-width="0.7" stroke-linejoin="miter"/>
<line x1="413" y1="23.2" x2="543.5" y2="22.8" stroke="#222" stroke-width="1.3" />
<line x1="413" y1="23.2" x2="413" y2="65" stroke="#222" stroke-width="1.3" />
<polyline points="479,23 479,64" fill="none" stroke="#222" stroke-width="2.8" stroke-linejoin="miter"/>
<polyline points="479,23 479,64" fill="none" stroke="#fff" stroke-width="0.7" stroke-linejoin="miter"/>
<line x1="544" y1="17.5" x2="645.4" y2="16.8" stroke="#222" stroke-width="1.3" />
<polyline points="543.5,17.5 543.5,66" fill="none" stroke="#222" stroke-width="2.8" stroke-linejoin="miter"/>
<polyline points="543.5,17.5 543.5,66" fill="none" stroke="#fff" stroke-width="0.7" stroke-linejoin="miter"/>
<polyline points="572.5,18 572.5,79" fill="none" stroke="#222" stroke-width="2.8" stroke-linejoin="miter"/>
<polyline points="572.5,18 572.5,79" fill="none" stroke="#fff" stroke-width="0.7" stroke-linejoin="miter"/>
<polyline points="68.4,65.3 543,65.5 543.8,81 574.2,79.4 602.5,66.9 608.7,84.6 628.8,76.5 628.8,67 648.5,66.1 645.4,16.7" fill="none" stroke="#000" stroke-width="3.8" stroke-linejoin="miter"/>
<polyline points="68.4,65.3 543,65.5 543.8,81 574.2,79.4 602.5,66.9 608.7,84.6 628.8,76.5 628.8,67 648.5,66.1 645.4,16.7" fill="none" stroke="#fff" stroke-width="1.2" stroke-linejoin="miter"/>
<polyline points="15.5,66.6 67,66.8" fill="none" stroke="#000" stroke-width="1.6" />
<polyline points="64,67 63,85 69,85 69,67" fill="none" stroke="#000" stroke-width="1.4" />
<line x1="650.8" y1="25.9" x2="712.7" y2="25.6" stroke="#000" stroke-width="1.6" />
<ellipse cx="107" cy="-23.5" rx="5.5" ry="3" fill="#fff" stroke="#999" stroke-width="0.8" stroke-dasharray="1.5,1"/>
<ellipse cx="208.3" cy="-23.5" rx="5.5" ry="3" fill="#fff" stroke="#999" stroke-width="0.8" stroke-dasharray="1.5,1"/>
<ellipse cx="309.6" cy="-23.5" rx="5.5" ry="3" fill="#fff" stroke="#999" stroke-width="0.8" stroke-dasharray="1.5,1"/>
<ellipse cx="445.4" cy="-23.5" rx="5.5" ry="3" fill="#fff" stroke="#999" stroke-width="0.8" stroke-dasharray="1.5,1"/>
<ellipse cx="546.7" cy="-23.5" rx="5.5" ry="3" fill="#fff" stroke="#999" stroke-width="0.8" stroke-dasharray="1.5,1"/>
<ellipse cx="648" cy="-23.5" rx="5.5" ry="3" fill="#fff" stroke="#999" stroke-width="0.8" stroke-dasharray="1.5,1"/>
<ellipse cx="572.5" cy="40" rx="5.5" ry="3" fill="#fff" stroke="#999" stroke-width="0.8" stroke-dasharray="1.5,1"/>
</g>
<polyline points="1356.46,649.43 1360.75,649.43 1360.75,653.14 1365.03,653.14 1365.03,656.86 1369.32,656.86 1369.32,660.57 1373.6,660.57 1373.6,664.29 1377.89,664.29 1377.89,668 1382.17,668 1382.17,671.71 1386.45,671.71 1386.45,675.43" fill="none" stroke="#999" stroke-width="1.2" />
<polyline points="1225.18,397.52 1255.32,397.52 1255.32,415.07" fill="none" stroke="#888" stroke-width="0.9" />
<polyline points="1319.24,435.14 1349.38,435.14 1349.38,452.69" fill="none" stroke="#888" stroke-width="0.9" />
<polyline points="1413.3,472.76 1443.43,472.76 1443.43,490.31" fill="none" stroke="#888" stroke-width="0.9" />
<polyline points="1539.38,523.19 1569.52,523.19 1569.52,540.74" fill="none" stroke="#888" stroke-width="0.9" />
<polyline points="1633.44,560.81 1663.58,560.81 1663.58,578.36" fill="none" stroke="#888" stroke-width="0.9" />
<polyline points="1727.5,598.43 1757.63,598.43 1757.63,615.98" fill="none" stroke="#888" stroke-width="0.9" />
<rect x="1474.8" y="585.2" width="19" height="19.5" fill="none" stroke="#000" stroke-width="1.4" />
<line x1="1484.3" y1="585.2" x2="1484.3" y2="604.7" stroke="#000" stroke-width="1.1" />
<line x1="1479.5" y1="588.2" x2="1479.5" y2="600.7" stroke="#000" stroke-width="1" />
<polyline points="1477.7,597.2 1479.5,601.2 1481.3,597.2" fill="none" stroke="#000" stroke-width="1" />
<line x1="1489" y1="589.2" x2="1489" y2="601.7" stroke="#000" stroke-width="1" />
<polyline points="1487.2,592.7 1489,588.7 1490.8,592.7" fill="none" stroke="#000" stroke-width="1" />
<polyline points="1455.4,606.5 1459.69,606.5 1459.69,610.31 1463.97,610.31 1463.97,614.13 1468.26,614.13 1468.26,617.94 1472.54,617.94 1472.54,621.76 1476.83,621.76 1476.83,625.57 1481.11,625.57 1481.11,629.39 1485.4,629.39 1485.4,633.2" fill="none" stroke="#000" stroke-width="1.9" />
<text x="1211.1" y="439.05" font-size="13.57" text-anchor="middle" textLength="30.21" lengthAdjust="spacingAndGlyphs" fill="#000">4422</text>
<text x="1304.3" y="476.35" font-size="13.57" text-anchor="middle" textLength="30.21" lengthAdjust="spacingAndGlyphs" fill="#000">4426</text>
<text x="1394.3" y="512.85" font-size="13.57" text-anchor="middle" textLength="30.21" lengthAdjust="spacingAndGlyphs" fill="#000">4430</text>
<text x="1209" y="516.85" font-size="13.57" text-anchor="middle" textLength="30.21" lengthAdjust="spacingAndGlyphs" fill="#000">4423</text>
<text x="1270.6" y="541.25" font-size="13.57" text-anchor="middle" textLength="30.21" lengthAdjust="spacingAndGlyphs" fill="#000">4425</text>
<text x="1330.6" y="565.55" font-size="13.57" text-anchor="middle" textLength="30.21" lengthAdjust="spacingAndGlyphs" fill="#000">4427</text>
<text x="1394.6" y="590.65" font-size="13.57" text-anchor="middle" textLength="30.21" lengthAdjust="spacingAndGlyphs" fill="#000">4429</text>
<text x="1518.9" y="562.85" font-size="13.57" text-anchor="middle" textLength="30.21" lengthAdjust="spacingAndGlyphs" fill="#000">4622</text>
<text x="1615.8" y="601.75" font-size="13.57" text-anchor="middle" textLength="30.21" lengthAdjust="spacingAndGlyphs" fill="#000">4626</text>
<text x="1706.5" y="638.05" font-size="13.57" text-anchor="middle" textLength="30.21" lengthAdjust="spacingAndGlyphs" fill="#000">4630</text>
<text x="1528.6" y="645.05" font-size="13.57" text-anchor="middle" textLength="30.21" lengthAdjust="spacingAndGlyphs" fill="#000">4623</text>
<text x="1586.7" y="668.25" font-size="13.57" text-anchor="middle" textLength="30.21" lengthAdjust="spacingAndGlyphs" fill="#000">4625</text>
<text x="1679.4" y="705.55" font-size="13.57" text-anchor="middle" textLength="30.21" lengthAdjust="spacingAndGlyphs" fill="#000">4629</text>
<polyline points="1365.4,688.4 1324.5,688.4 1324.5,1291 1378.8,1291" fill="none" stroke="#aaa" stroke-width="0.9" />
<polyline points="1449.7,686.7 1472.4,686.7 1480.5,671.3 1602.9,721.6" fill="none" stroke="#aaa" stroke-width="0.9" />
<polyline points="1446.5,685.6 1367.5,685.6 1367.5,690.6 1382,690.6" fill="none" stroke="#000" stroke-width="1.9" />
<polyline points="1382.3,689.5 1382.3,886 1366.9,886 1366.9,917.5 1371.9,917.5 1383.1,946.3 1363.75,951.9 1371.9,973.1 1383.1,973.1 1383.1,988.1 1366.9,988.1 1366.9,1018.75 1371.9,1018.75 1383.1,1047.55 1363.75,1053.15 1371.9,1074.35 1383.1,1074.35 1383.1,1089.35 1366.9,1089.35 1366.9,1120 1371.9,1120 1383.1,1148.8 1363.75,1154.4 1371.9,1175.6 1383.1,1175.6 1383.1,1190.6 1366.9,1190.6 1366.9,1221.25 1372.3,1221.25 1383.2,1249.25 1363.8,1254.75 1371.8,1275.55 1382.3,1275.55 1382.3,1295 1434,1295 1434,1268.1 1446.5,1268.1" fill="none" stroke="#000" stroke-width="3.8" stroke-linejoin="miter"/>
<polyline points="1382.3,689.5 1382.3,886 1366.9,886 1366.9,917.5 1371.9,917.5 1383.1,946.3 1363.75,951.9 1371.9,973.1 1383.1,973.1 1383.1,988.1 1366.9,988.1 1366.9,1018.75 1371.9,1018.75 1383.1,1047.55 1363.75,1053.15 1371.9,1074.35 1383.1,1074.35 1383.1,1089.35 1366.9,1089.35 1366.9,1120 1371.9,1120 1383.1,1148.8 1363.75,1154.4 1371.9,1175.6 1383.1,1175.6 1383.1,1190.6 1366.9,1190.6 1366.9,1221.25 1372.3,1221.25 1383.2,1249.25 1363.8,1254.75 1371.8,1275.55 1382.3,1275.55 1382.3,1295 1434,1295 1434,1268.1 1446.5,1268.1" fill="none" stroke="#fff" stroke-width="1.2" stroke-linejoin="miter"/>
<polyline points="1446.5,685.1 1446.5,734.4 1472.4,734.4 1472.4,790.2 1446.9,790.2 1446.9,1268.1" fill="none" stroke="#000" stroke-width="1.6" />
<rect x="1383.75" y="688.75" width="41.85" height="64.4" fill="none" stroke="#333" stroke-width="1.2" />
<rect x="1383.75" y="755.6" width="42.5" height="65" fill="none" stroke="#333" stroke-width="1.2" />
<rect x="1383.75" y="823.5" width="42.9" height="64.5" fill="none" stroke="#333" stroke-width="1.2" />
<polyline points="1384,754.3 1426,754.3" fill="none" stroke="#333" stroke-width="3" stroke-linejoin="miter"/>
<polyline points="1384,754.3 1426,754.3" fill="none" stroke="#fff" stroke-width="0.7" stroke-linejoin="miter"/>
<polyline points="1384,822 1427,822" fill="none" stroke="#333" stroke-width="3" stroke-linejoin="miter"/>
<polyline points="1384,822 1427,822" fill="none" stroke="#fff" stroke-width="0.7" stroke-linejoin="miter"/>
<polyline points="1369,889 1431,889" fill="none" stroke="#555" stroke-width="2.6" stroke-linejoin="miter"/>
<polyline points="1369,889 1431,889" fill="none" stroke="#fff" stroke-width="0.8" stroke-linejoin="miter"/>
<rect x="1369.4" y="890" width="61.85" height="24.4" fill="none" stroke="#333" stroke-width="1.1" />
<polyline points="1369.5,915.8 1431,915.8" fill="none" stroke="#333" stroke-width="3" stroke-linejoin="miter"/>
<polyline points="1369.5,915.8 1431,915.8" fill="none" stroke="#fff" stroke-width="0.7" stroke-linejoin="miter"/>
<line x1="1431" y1="917" x2="1431" y2="988.8" stroke="#333" stroke-width="1.1" />
<polyline points="1384,989.7 1431,989.7" fill="none" stroke="#333" stroke-width="3" stroke-linejoin="miter"/>
<polyline points="1384,989.7 1431,989.7" fill="none" stroke="#fff" stroke-width="0.7" stroke-linejoin="miter"/>
<rect x="1369.4" y="991.25" width="61.85" height="24.4" fill="none" stroke="#333" stroke-width="1.1" />
<polyline points="1369.5,1017.05 1431,1017.05" fill="none" stroke="#333" stroke-width="3" stroke-linejoin="miter"/>
<polyline points="1369.5,1017.05 1431,1017.05" fill="none" stroke="#fff" stroke-width="0.7" stroke-linejoin="miter"/>
<line x1="1431" y1="1018.25" x2="1431" y2="1090.05" stroke="#333" stroke-width="1.1" />
<polyline points="1384,1090.95 1431,1090.95" fill="none" stroke="#333" stroke-width="3" stroke-linejoin="miter"/>
<polyline points="1384,1090.95 1431,1090.95" fill="none" stroke="#fff" stroke-width="0.7" stroke-linejoin="miter"/>
<rect x="1369.4" y="1092.5" width="61.85" height="24.4" fill="none" stroke="#333" stroke-width="1.1" />
<polyline points="1369.5,1118.3 1431,1118.3" fill="none" stroke="#333" stroke-width="3" stroke-linejoin="miter"/>
<polyline points="1369.5,1118.3 1431,1118.3" fill="none" stroke="#fff" stroke-width="0.7" stroke-linejoin="miter"/>
<line x1="1431" y1="1119.5" x2="1431" y2="1191.3" stroke="#333" stroke-width="1.1" />
<polyline points="1384,1192.2 1431,1192.2" fill="none" stroke="#333" stroke-width="3" stroke-linejoin="miter"/>
<polyline points="1384,1192.2 1431,1192.2" fill="none" stroke="#fff" stroke-width="0.7" stroke-linejoin="miter"/>
<rect x="1369.4" y="1193.75" width="61.85" height="24.4" fill="none" stroke="#333" stroke-width="1.1" />
<polyline points="1369.5,1219.55 1431,1219.55" fill="none" stroke="#333" stroke-width="3" stroke-linejoin="miter"/>
<polyline points="1369.5,1219.55 1431,1219.55" fill="none" stroke="#fff" stroke-width="0.7" stroke-linejoin="miter"/>
<line x1="1431" y1="1220.75" x2="1431" y2="1292.5" stroke="#333" stroke-width="1.1" />
<line x1="1384" y1="1292.5" x2="1431" y2="1292.5" stroke="#333" stroke-width="1.1" />
<ellipse cx="1406.9" cy="915.8" rx="2.6" ry="5.5" transform="rotate(15 1406.9 915.8)" fill="#fff" stroke="#999" stroke-width="0.8" stroke-dasharray="1.5,1"/>
<ellipse cx="1406.9" cy="1017.05" rx="2.6" ry="5.5" transform="rotate(15 1406.9 1017.05)" fill="#fff" stroke="#999" stroke-width="0.8" stroke-dasharray="1.5,1"/>
<ellipse cx="1406.9" cy="1118.3" rx="2.6" ry="5.5" transform="rotate(15 1406.9 1118.3)" fill="#fff" stroke="#999" stroke-width="0.8" stroke-dasharray="1.5,1"/>
<ellipse cx="1406.9" cy="1219.55" rx="2.6" ry="5.5" transform="rotate(15 1406.9 1219.55)" fill="#fff" stroke="#999" stroke-width="0.8" stroke-dasharray="1.5,1"/>
<polyline points="1438.4,748.3 1442.67,748.3 1442.67,752.01 1446.94,752.01 1446.94,755.73 1451.21,755.73 1451.21,759.44 1455.49,759.44 1455.49,763.16 1459.76,763.16 1459.76,766.87 1464.03,766.87 1464.03,770.59 1468.3,770.59 1468.3,774.3" fill="none" stroke="#000" stroke-width="1.9" />
<path d="M1446.9,1231.3 L1446.9,1217.8 L1460.4,1217.8 A13.5,13.5 0 1 1 1446.9,1231.3 Z" fill="#fff" stroke="#000" stroke-width="1.4"/>
<circle cx="1461.4" cy="1231.3" r="7.43" fill="none" stroke="#bbb" stroke-width="0.8"/>
<polyline points="1452.5,1223.8 1456.63,1223.8 1456.63,1227.5 1460.76,1227.5 1460.76,1231.2 1464.89,1231.2 1464.89,1234.9 1469.01,1234.9 1469.01,1238.6 1473.14,1238.6 1473.14,1242.3 1477.27,1242.3 1477.27,1246 1481.4,1246 1481.4,1249.7" fill="none" stroke="#000" stroke-width="1.9" />
<text x="1404.4" y="724.75" font-size="13.57" text-anchor="middle" textLength="30.21" lengthAdjust="spacingAndGlyphs" fill="#000">4522</text>
<text x="1404.4" y="793.75" font-size="13.57" text-anchor="middle" textLength="30.21" lengthAdjust="spacingAndGlyphs" fill="#000">4524</text>
<text x="1404.4" y="857.75" font-size="13.57" text-anchor="middle" textLength="30.21" lengthAdjust="spacingAndGlyphs" fill="#000">4526</text>
<text x="1404.4" y="958.75" font-size="13.57" text-anchor="middle" textLength="30.21" lengthAdjust="spacingAndGlyphs" fill="#000">4528</text>
<text x="1404.4" y="1060.75" font-size="13.57" text-anchor="middle" textLength="30.21" lengthAdjust="spacingAndGlyphs" fill="#000">4530</text>
<text x="1404.4" y="1159.75" font-size="13.57" text-anchor="middle" textLength="30.21" lengthAdjust="spacingAndGlyphs" fill="#000">4532</text>
<text x="1404.4" y="1259.75" font-size="13.57" text-anchor="middle" textLength="30.21" lengthAdjust="spacingAndGlyphs" fill="#000">4536</text>
<line x1="1836.2" y1="678.9" x2="1855.7" y2="678.9" stroke="#000" stroke-width="1.6" stroke-dasharray="9,1.2,1.2,1.2"/>
<line x1="1855.7" y1="678.9" x2="1855.7" y2="707.3" stroke="#000" stroke-width="1.6" stroke-dasharray="9,1.2,1.2,1.2"/>
<line x1="1855.7" y1="707.3" x2="1899.8" y2="707.3" stroke="#000" stroke-width="1.6" stroke-dasharray="9,1.2,1.2,1.2"/>
<line x1="1899.8" y1="707.3" x2="1899.8" y2="861.2" stroke="#000" stroke-width="1.6" stroke-dasharray="9,1.2,1.2,1.2"/>
<line x1="1899.8" y1="861.2" x2="1910.5" y2="861.2" stroke="#000" stroke-width="1.6" stroke-dasharray="9,1.2,1.2,1.2"/>
<line x1="1910.5" y1="861.2" x2="1917.3" y2="882.9" stroke="#000" stroke-width="1.6" stroke-dasharray="9,1.2,1.2,1.2"/>
<line x1="1917.3" y1="882.9" x2="1900.6" y2="890.4" stroke="#000" stroke-width="1.6" stroke-dasharray="9,1.2,1.2,1.2"/>
<line x1="1900.6" y1="890.4" x2="1909.3" y2="916.5" stroke="#000" stroke-width="1.6" stroke-dasharray="9,1.2,1.2,1.2"/>
<line x1="1909.3" y1="916.5" x2="1914.8" y2="916.5" stroke="#000" stroke-width="1.6" stroke-dasharray="9,1.2,1.2,1.2"/>
<line x1="1914.8" y1="916.5" x2="1914.8" y2="948.9" stroke="#000" stroke-width="1.6" stroke-dasharray="9,1.2,1.2,1.2"/>
<line x1="1914.8" y1="948.9" x2="1899.8" y2="948.9" stroke="#000" stroke-width="1.6" stroke-dasharray="9,1.2,1.2,1.2"/>
<line x1="1899.8" y1="948.9" x2="1899.8" y2="961.4" stroke="#000" stroke-width="1.6" stroke-dasharray="9,1.2,1.2,1.2"/>
<line x1="1899.8" y1="961.4" x2="1910.5" y2="961.4" stroke="#000" stroke-width="1.6" stroke-dasharray="9,1.2,1.2,1.2"/>
<line x1="1910.5" y1="961.4" x2="1917.3" y2="982.5" stroke="#000" stroke-width="1.6" stroke-dasharray="9,1.2,1.2,1.2"/>
<line x1="1917.3" y1="982.5" x2="1900.6" y2="990" stroke="#000" stroke-width="1.6" stroke-dasharray="9,1.2,1.2,1.2"/>
<line x1="1900.6" y1="990" x2="1911.8" y2="1016.2" stroke="#000" stroke-width="1.6" stroke-dasharray="9,1.2,1.2,1.2"/>
<line x1="1911.8" y1="1016.2" x2="1914.8" y2="1017.4" stroke="#000" stroke-width="1.6" stroke-dasharray="9,1.2,1.2,1.2"/>
<line x1="1914.8" y1="1017.4" x2="1914.8" y2="1049.3" stroke="#000" stroke-width="1.6" stroke-dasharray="9,1.2,1.2,1.2"/>
<line x1="1914.8" y1="1049.3" x2="1900.6" y2="1049.3" stroke="#000" stroke-width="1.6" stroke-dasharray="9,1.2,1.2,1.2"/>
<line x1="1900.6" y1="1049.3" x2="1900.6" y2="1067.2" stroke="#000" stroke-width="1.6" stroke-dasharray="9,1.2,1.2,1.2"/>
<line x1="1900.6" y1="1067.2" x2="1923.7" y2="1067.2" stroke="#000" stroke-width="1.6" stroke-dasharray="9,1.2,1.2,1.2"/>
<line x1="1923.7" y1="1067.2" x2="1923.7" y2="1086.6" stroke="#000" stroke-width="1.6" stroke-dasharray="9,1.2,1.2,1.2"/>
<line x1="1923.7" y1="1086.6" x2="1932.2" y2="1086.6" stroke="#000" stroke-width="1.6" stroke-dasharray="9,1.2,1.2,1.2"/>
<line x1="1932.2" y1="1086.6" x2="1941.2" y2="1109.1" stroke="#000" stroke-width="1.6" stroke-dasharray="9,1.2,1.2,1.2"/>
<line x1="1941.2" y1="1109.1" x2="1924.7" y2="1114.5" stroke="#000" stroke-width="1.6" stroke-dasharray="9,1.2,1.2,1.2"/>
<line x1="1924.7" y1="1114.5" x2="1933.7" y2="1140.7" stroke="#000" stroke-width="1.6" stroke-dasharray="9,1.2,1.2,1.2"/>
<line x1="1933.7" y1="1140.7" x2="1938.7" y2="1143.2" stroke="#000" stroke-width="1.6" stroke-dasharray="9,1.2,1.2,1.2"/>
<line x1="1938.7" y1="1143.2" x2="1938.7" y2="1173.8" stroke="#000" stroke-width="1.6" stroke-dasharray="9,1.2,1.2,1.2"/>
<line x1="1938.7" y1="1173.8" x2="1923.7" y2="1173.8" stroke="#000" stroke-width="1.6" stroke-dasharray="9,1.2,1.2,1.2"/>
<line x1="1923.7" y1="1173.8" x2="1923.7" y2="1187.3" stroke="#000" stroke-width="1.6" stroke-dasharray="9,1.2,1.2,1.2"/>
<line x1="1923.7" y1="1187.3" x2="1932.2" y2="1187.3" stroke="#000" stroke-width="1.6" stroke-dasharray="9,1.2,1.2,1.2"/>
<line x1="1932.2" y1="1187.3" x2="1941.2" y2="1209.2" stroke="#000" stroke-width="1.6" stroke-dasharray="9,1.2,1.2,1.2"/>
<line x1="1941.2" y1="1209.2" x2="1924.7" y2="1215.4" stroke="#000" stroke-width="1.6" stroke-dasharray="9,1.2,1.2,1.2"/>
<line x1="1924.7" y1="1215.4" x2="1933.7" y2="1242" stroke="#000" stroke-width="1.6" stroke-dasharray="9,1.2,1.2,1.2"/>
<line x1="1933.7" y1="1242" x2="1938.7" y2="1244" stroke="#000" stroke-width="1.6" stroke-dasharray="9,1.2,1.2,1.2"/>
<line x1="1938.7" y1="1244" x2="1938.7" y2="1274.4" stroke="#000" stroke-width="1.6" stroke-dasharray="9,1.2,1.2,1.2"/>
<line x1="1938.7" y1="1274.4" x2="1858.2" y2="1274.4" stroke="#000" stroke-width="1.6" stroke-dasharray="9,1.2,1.2,1.2"/>
<line x1="1785.9" y1="741.3" x2="1769.8" y2="741.3" stroke="#000" stroke-width="1.6" stroke-dasharray="9,1.2,1.2,1.2"/>
<line x1="1769.8" y1="741.3" x2="1769.8" y2="773.3" stroke="#000" stroke-width="1.6" stroke-dasharray="9,1.2,1.2,1.2"/>
<line x1="1769.8" y1="773.3" x2="1773.5" y2="773.3" stroke="#000" stroke-width="1.6" stroke-dasharray="9,1.2,1.2,1.2"/>
<line x1="1773.5" y1="773.3" x2="1783.5" y2="800.7" stroke="#000" stroke-width="1.6" stroke-dasharray="9,1.2,1.2,1.2"/>
<line x1="1783.5" y1="800.7" x2="1767.3" y2="807" stroke="#000" stroke-width="1.6" stroke-dasharray="9,1.2,1.2,1.2"/>
<line x1="1767.3" y1="807" x2="1774.3" y2="828.1" stroke="#000" stroke-width="1.6" stroke-dasharray="9,1.2,1.2,1.2"/>
<line x1="1774.3" y1="828.1" x2="1784.3" y2="828.1" stroke="#000" stroke-width="1.6" stroke-dasharray="9,1.2,1.2,1.2"/>
<line x1="1784.3" y1="828.1" x2="1784.3" y2="841.8" stroke="#000" stroke-width="1.6" stroke-dasharray="9,1.2,1.2,1.2"/>
<line x1="1784.3" y1="841.8" x2="1769.8" y2="841.8" stroke="#000" stroke-width="1.6" stroke-dasharray="9,1.2,1.2,1.2"/>
<line x1="1769.8" y1="841.8" x2="1769.8" y2="874.2" stroke="#000" stroke-width="1.6" stroke-dasharray="9,1.2,1.2,1.2"/>
<line x1="1769.8" y1="874.2" x2="1773.5" y2="874.2" stroke="#000" stroke-width="1.6" stroke-dasharray="9,1.2,1.2,1.2"/>
<line x1="1773.5" y1="874.2" x2="1783.5" y2="901.5" stroke="#000" stroke-width="1.6" stroke-dasharray="9,1.2,1.2,1.2"/>
<line x1="1783.5" y1="901.5" x2="1767.3" y2="907.8" stroke="#000" stroke-width="1.6" stroke-dasharray="9,1.2,1.2,1.2"/>
<line x1="1767.3" y1="907.8" x2="1774.3" y2="928.9" stroke="#000" stroke-width="1.6" stroke-dasharray="9,1.2,1.2,1.2"/>
<line x1="1774.3" y1="928.9" x2="1784.3" y2="928.9" stroke="#000" stroke-width="1.6" stroke-dasharray="9,1.2,1.2,1.2"/>
<line x1="1784.3" y1="928.9" x2="1784.3" y2="942.6" stroke="#000" stroke-width="1.6" stroke-dasharray="9,1.2,1.2,1.2"/>
<line x1="1784.3" y1="942.6" x2="1769.8" y2="942.6" stroke="#000" stroke-width="1.6" stroke-dasharray="9,1.2,1.2,1.2"/>
<line x1="1769.8" y1="942.6" x2="1769.8" y2="975" stroke="#000" stroke-width="1.6" stroke-dasharray="9,1.2,1.2,1.2"/>
<line x1="1769.8" y1="975" x2="1773.5" y2="975" stroke="#000" stroke-width="1.6" stroke-dasharray="9,1.2,1.2,1.2"/>
<line x1="1773.5" y1="975" x2="1783.5" y2="1001.2" stroke="#000" stroke-width="1.6" stroke-dasharray="9,1.2,1.2,1.2"/>
<line x1="1783.5" y1="1001.2" x2="1767.3" y2="1007.4" stroke="#000" stroke-width="1.6" stroke-dasharray="9,1.2,1.2,1.2"/>
<line x1="1767.3" y1="1007.4" x2="1774.8" y2="1029.9" stroke="#000" stroke-width="1.6" stroke-dasharray="9,1.2,1.2,1.2"/>
<line x1="1774.8" y1="1029.9" x2="1784.3" y2="1029.9" stroke="#000" stroke-width="1.6" stroke-dasharray="9,1.2,1.2,1.2"/>
<line x1="1784.3" y1="1029.9" x2="1785.3" y2="1072.2" stroke="#000" stroke-width="1.6" stroke-dasharray="9,1.2,1.2,1.2"/>
<line x1="1785.3" y1="1072.2" x2="1793.5" y2="1072.2" stroke="#000" stroke-width="1.6" stroke-dasharray="9,1.2,1.2,1.2"/>
<line x1="1793.5" y1="1072.2" x2="1793.5" y2="1099.6" stroke="#000" stroke-width="1.6" stroke-dasharray="9,1.2,1.2,1.2"/>
<line x1="1793.5" y1="1099.6" x2="1797" y2="1099.6" stroke="#000" stroke-width="1.6" stroke-dasharray="9,1.2,1.2,1.2"/>
<line x1="1797" y1="1099.6" x2="1807.2" y2="1126.5" stroke="#000" stroke-width="1.6" stroke-dasharray="9,1.2,1.2,1.2"/>
<line x1="1807.2" y1="1126.5" x2="1791" y2="1133.2" stroke="#000" stroke-width="1.6" stroke-dasharray="9,1.2,1.2,1.2"/>
<line x1="1791" y1="1133.2" x2="1799.2" y2="1154.9" stroke="#000" stroke-width="1.6" stroke-dasharray="9,1.2,1.2,1.2"/>
<line x1="1799.2" y1="1154.9" x2="1808.4" y2="1154.9" stroke="#000" stroke-width="1.6" stroke-dasharray="9,1.2,1.2,1.2"/>
<line x1="1808.4" y1="1154.9" x2="1808.4" y2="1168.1" stroke="#000" stroke-width="1.6" stroke-dasharray="9,1.2,1.2,1.2"/>
<line x1="1808.4" y1="1168.1" x2="1793.5" y2="1168.1" stroke="#000" stroke-width="1.6" stroke-dasharray="9,1.2,1.2,1.2"/>
<line x1="1793.5" y1="1168.1" x2="1793.5" y2="1200.5" stroke="#000" stroke-width="1.6" stroke-dasharray="9,1.2,1.2,1.2"/>
<line x1="1793.5" y1="1200.5" x2="1797" y2="1200.5" stroke="#000" stroke-width="1.6" stroke-dasharray="9,1.2,1.2,1.2"/>
<line x1="1797" y1="1200.5" x2="1807.2" y2="1227.9" stroke="#000" stroke-width="1.6" stroke-dasharray="9,1.2,1.2,1.2"/>
<line x1="1807.2" y1="1227.9" x2="1791" y2="1234.1" stroke="#000" stroke-width="1.6" stroke-dasharray="9,1.2,1.2,1.2"/>
<line x1="1791" y1="1234.1" x2="1799.2" y2="1255.3" stroke="#000" stroke-width="1.6" stroke-dasharray="9,1.2,1.2,1.2"/>
<line x1="1799.2" y1="1255.3" x2="1808.4" y2="1255.3" stroke="#000" stroke-width="1.6" stroke-dasharray="9,1.2,1.2,1.2"/>
<line x1="1808.4" y1="1255.3" x2="1808.4" y2="1274.4" stroke="#000" stroke-width="1.6" stroke-dasharray="9,1.2,1.2,1.2"/>
<line x1="1808.4" y1="1274.4" x2="1858.2" y2="1274.4" stroke="#000" stroke-width="1.6" stroke-dasharray="9,1.2,1.2,1.2"/>
<path d="M1858.6,1274.4 V1288 A13.7,13.7 0 1 0 1872.3,1274.3" fill="none" stroke="#000" stroke-width="1.6" stroke-dasharray="9,1.2,1.2,1.2"/>
<polyline points="1899.8,718.5 1914.3,718.5 1914.3,764.1 1899.8,764.1" fill="none" stroke="#bbb" stroke-width="0.9" stroke-dasharray="4,2"/>
<polyline points="1899.8,785.8 1914.3,785.8 1914.3,831.4 1899.8,831.4" fill="none" stroke="#bbb" stroke-width="0.9" stroke-dasharray="4,2"/>
<polyline points="1770.5,772.6 1757.1,777.3 1766.9,805.8 1772,804.2" fill="none" stroke="#bbb" stroke-width="0.9" stroke-dasharray="4,2"/>
<polyline points="1770.5,873.5 1757.1,878.2 1766.9,906.7 1772,905.1" fill="none" stroke="#bbb" stroke-width="0.9" stroke-dasharray="4,2"/>
<polyline points="1770.5,974.3 1757.1,979 1766.9,1007.5 1772,1005.9" fill="none" stroke="#bbb" stroke-width="0.9" stroke-dasharray="4,2"/>
<polyline points="1794.2,1098.9 1780.8,1103.6 1790.6,1132.1 1795.7,1130.5" fill="none" stroke="#bbb" stroke-width="0.9" stroke-dasharray="4,2"/>
<polyline points="1794.2,1199.8 1780.8,1204.5 1790.6,1233 1795.7,1231.4" fill="none" stroke="#bbb" stroke-width="0.9" stroke-dasharray="4,2"/>
<polyline points="1917.3,882.9 1927,912.9 1914.8,916.5" fill="none" stroke="#bbb" stroke-width="0.9" stroke-dasharray="4,2"/>
<polyline points="1917.3,982.5 1927,1012.5 1914.8,1017.4" fill="none" stroke="#bbb" stroke-width="0.9" stroke-dasharray="4,2"/>
<polyline points="1941.2,1109.1 1950.9,1139.1 1938.7,1143.2" fill="none" stroke="#bbb" stroke-width="0.9" stroke-dasharray="4,2"/>
<polyline points="1941.2,1209.2 1950.9,1239.2 1938.7,1244" fill="none" stroke="#bbb" stroke-width="0.9" stroke-dasharray="4,2"/>
<polygon points="1786,678.9 1836.2,678.9 1836.2,745.4 1786,745.4" fill="none" stroke="#000" stroke-width="1.5" />
<rect x="1786.8" y="694.5" width="2" height="32" fill="#fff"/>
<rect x="1813.4" y="686.2" width="17.4" height="18.6" fill="none" stroke="#000" stroke-width="1.4" />
<line x1="1822.1" y1="686.2" x2="1822.1" y2="704.8" stroke="#000" stroke-width="1.1" />
<line x1="1817.7" y1="689" x2="1817.7" y2="700.5" stroke="#000" stroke-width="1" />
<polyline points="1815.9,697 1817.7,701 1819.5,697" fill="none" stroke="#000" stroke-width="1" />
<line x1="1826.4" y1="690" x2="1826.4" y2="701.5" stroke="#000" stroke-width="1" />
<polyline points="1824.6,692.5 1826.4,688.5 1828.2,692.5" fill="none" stroke="#000" stroke-width="1" />
<polyline points="1793.5,707.3 1797.59,707.3 1797.59,711.04 1801.67,711.04 1801.67,714.79 1805.76,714.79 1805.76,718.53 1809.84,718.53 1809.84,722.27 1813.93,722.27 1813.93,726.01 1818.01,726.01 1818.01,729.76 1822.1,729.76 1822.1,733.5" fill="none" stroke="#000" stroke-width="1.9" />
<line x1="1757.5" y1="683.8" x2="1786" y2="694.8" stroke="#000" stroke-width="1.6" />
<line x1="1727.5" y1="698.4" x2="1786" y2="722" stroke="#000" stroke-width="1.6" />
<text x="1836.5" y="233.7" font-size="22.43" text-anchor="middle" textLength="82.65" lengthAdjust="spacingAndGlyphs" fill="#000">LEVEL 4</text>
<line x1="1794.5" y1="238.6" x2="1878.9" y2="238.6" stroke="#000" stroke-width="1.5" />
<line x1="1231.6" y1="306.5" x2="1231.6" y2="327.2" stroke="#000" stroke-width="2.2" />
<polygon points="1231.6,302.5 1226.6,310.5 1228.4,311.7 1231.6,307 1234.8,311.7 1236.6,310.5" fill="#000"/>
<text x="1231.7" y="339.3" font-size="13" text-anchor="middle" textLength="85.98" lengthAdjust="spacingAndGlyphs" fill="#000">SLOPES / LIFTS</text>
<line x1="1826" y1="484" x2="1826" y2="504" stroke="#000" stroke-width="2.2" />
<polygon points="1826,480 1821,488 1822.8,489.2 1826,484.5 1829.2,489.2 1831,488" fill="#000"/>
<text x="1826.3" y="516.3" font-size="13" text-anchor="middle" textLength="85.98" lengthAdjust="spacingAndGlyphs" fill="#000">SLOPES / LIFTS</text>
<text x="1365.1" y="385" font-size="17.29" text-anchor="middle" textLength="68.94" lengthAdjust="spacingAndGlyphs" fill="#000">LODGE D</text>
<text x="1676.2" y="498.1" font-size="16.86" text-anchor="middle" textLength="66.01" lengthAdjust="spacingAndGlyphs" fill="#000">LODGE F</text>
<text x="1933.6" y="653.7" font-size="17.86" text-anchor="middle" textLength="68.07" lengthAdjust="spacingAndGlyphs" fill="#000">LODGE G</text>
<text x="855" y="890.9" font-size="17" text-anchor="middle" textLength="68.92" lengthAdjust="spacingAndGlyphs" fill="#000">LODGE A</text>
<text x="1505.6" y="1320.7" font-size="17.86" text-anchor="middle" textLength="65.87" lengthAdjust="spacingAndGlyphs" fill="#000">LODGE E</text>
</svg></body></html>
